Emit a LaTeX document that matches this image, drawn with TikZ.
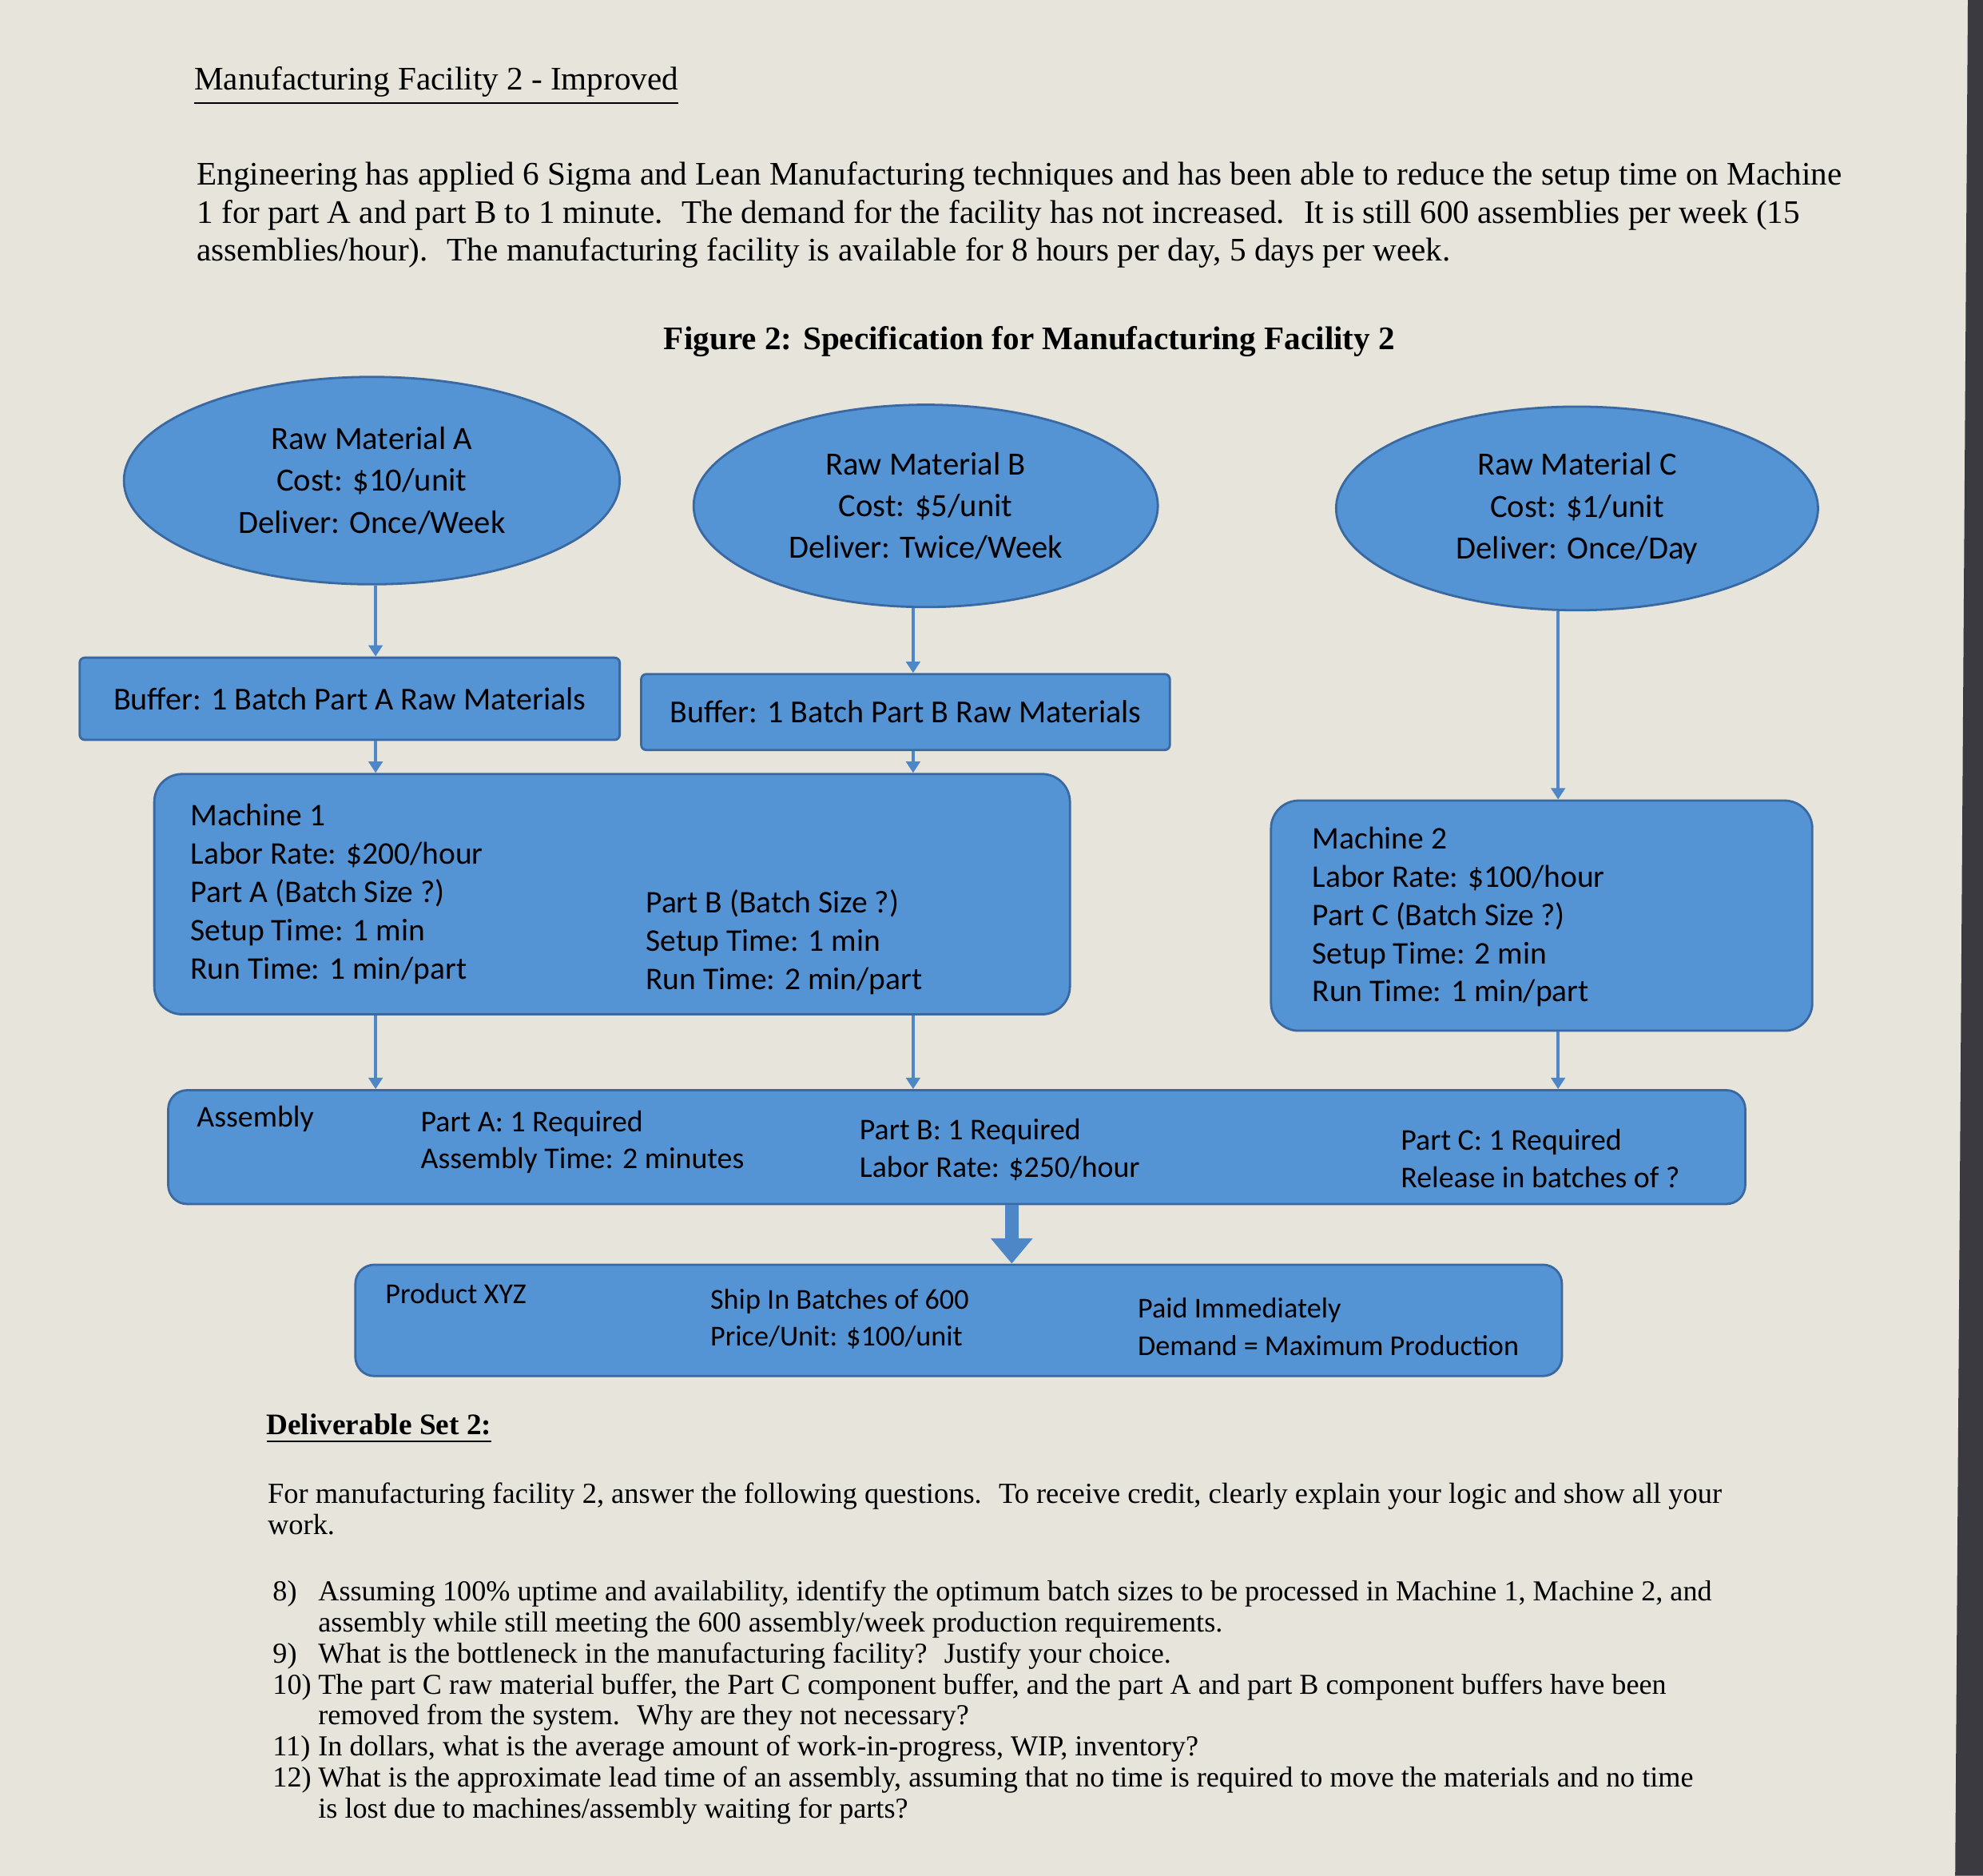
\documentclass[tikz,border=0pt]{standalone}
\usepackage{fontspec}
\setmainfont{Liberation Serif}
\newfontfamily\diagfont{Carlito}
\usetikzlibrary{arrows.meta, shapes.geometric}

\definecolor{paper}{RGB}{231,228,219}
\definecolor{boxblue}{RGB}{84,147,212}
\definecolor{boxline}{RGB}{58,104,160}
\definecolor{arrblue}{RGB}{78,135,200}
\definecolor{bezel}{RGB}{58,58,64}

\begin{document}
\begin{tikzpicture}[
  blob/.style={ellipse, draw=boxline, fill=boxblue, line width=0.5pt, inner sep=0pt,
    align=center, font=\diagfont\fontsize{7.3}{9.4}\selectfont},
  buf/.style={rectangle, rounded corners=0.04cm, draw=boxline, fill=boxblue, line width=0.5pt,
    inner sep=0pt, font=\diagfont\fontsize{7.2}{9}\selectfont},
  stage/.style={rectangle, rounded corners=0.22cm, draw=boxline, fill=boxblue, line width=0.5pt, inner sep=0pt},
  txt/.style={anchor=west, inner sep=0pt, align=left, font=\diagfont\fontsize{7.1}{8.6}\selectfont},
  lowtxt/.style={txt, font=\diagfont\fontsize{6.8}{8.3}\selectfont},
  feed/.style={draw=arrblue, line width=0.7pt, -{Triangle[length=0.9mm,width=1.1mm]}},
  ship/.style={draw=arrblue, line width=3pt, -{Triangle[length=2mm,width=3.2mm]}},
  body/.style={anchor=west, inner sep=0pt, align=left, font=\fontsize{7.4}{8.5}\selectfont},
  small/.style={anchor=west, inner sep=0pt, align=left, font=\fontsize{6.5}{7}\selectfont},
]
  % page
  \useasboundingbox (0,0) rectangle (15.68,-14.83);
  \fill[paper] (0,0) rectangle (15.68,-14.83);
  \fill[bezel] (15.56,0) -- (15.68,0) -- (15.68,-14.83) -- (15.46,-14.83) -- cycle;

  % heading and text
  \node[body] (title) at (1.53,-0.68) {\underline{Manufacturing Facility 2 - Improved}};
  \node[body] (intro) at (1.55,-1.70) {Engineering has applied 6 Sigma and Lean Manufacturing techniques and has been able to reduce the setup time on Machine\\
    1 for part A and part B to 1 minute.~ The demand for the facility has not increased.~ It is still 600 assemblies per week (15\\
    assemblies/hour).~ The manufacturing facility is available for 8 hours per day, 5 days per week.};
  \node[inner sep=0pt, font=\bfseries\fontsize{7.4}{8.5}\selectfont] (caption) at (8.14,-2.70)
    {Figure 2: Specification for Manufacturing Facility 2};

  % raw materials
  \node[blob, minimum width=3.92cm, minimum height=1.64cm] (ellA) at (2.94,-3.80)
    {Raw Material A\\ Cost: \$10/unit\\ Deliver: Once/Week};
  \node[blob, minimum width=3.67cm, minimum height=1.60cm] (ellB) at (7.32,-4.00)
    {Raw Material B\\ Cost: \$5/unit\\ Deliver: Twice/Week};
  \node[blob, minimum width=3.81cm, minimum height=1.61cm] (ellC) at (12.47,-4.02)
    {Raw Material C\\ Cost: \$1/unit\\ Deliver: Once/Day};

  % buffers
  \node[buf, minimum width=4.27cm, minimum height=0.65cm] (bufA) at (2.765,-5.525)
    {Buffer: 1 Batch Part A Raw Materials};
  \node[buf, minimum width=4.18cm, minimum height=0.60cm] (bufB) at (7.16,-5.63)
    {Buffer: 1 Batch Part B Raw Materials};

  % machines
  \node[stage, minimum width=7.24cm, minimum height=1.90cm] (mach1) at (4.84,-7.07) {};
  \node[txt] (m1left) at (1.50,-7.07) {Machine 1\\ Labor Rate: \$200/hour\\ Part A (Batch Size ?)\\ Setup Time: 1 min\\ Run Time: 1 min/part};
  \node[txt] (m1right) at (5.10,-7.45) {Part B (Batch Size ?)\\ Setup Time: 1 min\\ Run Time: 2 min/part};
  \node[stage, minimum width=4.28cm, minimum height=1.82cm] (mach2) at (12.19,-7.24) {};
  \node[txt] (m2text) at (10.37,-7.25) {Machine 2\\ Labor Rate: \$100/hour\\ Part C (Batch Size ?)\\ Setup Time: 2 min\\ Run Time: 1 min/part};

  % assembly
  \node[stage, rounded corners=0.15cm, minimum width=12.47cm, minimum height=0.90cm] (asm) at (7.565,-9.07) {};
  \node[lowtxt] (asmname) at (1.55,-8.85) {Assembly};
  \node[lowtxt] (asmA) at (3.32,-9.03) {Part A: 1 Required\\ Assembly Time: 2 minutes};
  \node[lowtxt] (asmB) at (6.79,-9.09) {Part B: 1 Required\\ Labor Rate: \$250/hour};
  \node[lowtxt] (asmC) at (11.07,-9.16) {Part C: 1 Required\\ Release in batches of ?};

  % product
  \node[stage, rounded corners=0.15cm, minimum width=9.54cm, minimum height=0.88cm] (prod) at (7.58,-10.44) {};
  \node[lowtxt, font=\diagfont\fontsize{6.5}{8.4}\selectfont] (prodname) at (3.04,-10.23) {Product XYZ};
  \node[lowtxt, font=\diagfont\fontsize{6.5}{8.4}\selectfont] (prodship) at (5.61,-10.43) {Ship In Batches of 600\\ Price/Unit: \$100/unit};
  \node[lowtxt, font=\diagfont\fontsize{6.5}{8.4}\selectfont] (prodpay) at (8.99,-10.49) {Paid Immediately\\ Demand = Maximum Production};

  % flow
  \coordinate (colA) at (2.97,0);
  \coordinate (colB) at (7.22,0);
  \coordinate (colC) at (12.32,0);
  \coordinate (colOut) at (8.00,0);
  \draw[feed] (ellA.south -| colA) -- (bufA.north -| colA);
  \draw[feed] (ellB.south -| colB) -- (bufB.north -| colB);
  \draw[feed] (ellC.south -| colC) -- (mach2.north -| colC);
  \draw[feed] (bufA.south -| colA) -- (mach1.north -| colA);
  \draw[feed] (bufB.south -| colB) -- (mach1.north -| colB);
  \foreach \m/\c in {mach1/colA, mach1/colB, mach2/colC}
    \draw[feed] (\m.south -| \c) -- (asm.north -| \c);
  \draw[ship] (asm.south -| colOut) -- (prod.north -| colOut);

  % questions
  \node[small, font=\bfseries\fontsize{6.7}{7.5}\selectfont] (deliv) at (2.10,-11.30) {\underline{Deliverable Set 2:}};
  \node[small, font=\fontsize{6.55}{7.1}\selectfont] (ask) at (2.11,-11.93) {For manufacturing facility 2, answer the following questions.~ To receive credit, clearly explain your logic and show all your\\ work.};
  \node[small] (list) at (2.15,-13.46) {%
    \makebox[0.36cm][l]{8)}Assuming 100\% uptime and availability, identify the optimum batch sizes to be processed in Machine 1, Machine 2, and\\
    \hspace*{0.36cm}assembly while still meeting the 600 assembly/week production requirements.\\
    \makebox[0.36cm][l]{9)}What is the bottleneck in the manufacturing facility?~ Justify your choice.\\
    \makebox[0.36cm][l]{10)}The part C raw material buffer, the Part C component buffer, and the part A and part B component buffers have been\\
    \hspace*{0.36cm}removed from the system.~ Why are they not necessary?\\
    \makebox[0.36cm][l]{11)}In dollars, what is the average amount of work-in-progress, WIP, inventory?\\
    \makebox[0.36cm][l]{12)}What is the approximate lead time of an assembly, assuming that no time is required to move the materials and no time\\
    \hspace*{0.36cm}is lost due to machines/assembly waiting for parts?};
\end{tikzpicture}
\end{document}
